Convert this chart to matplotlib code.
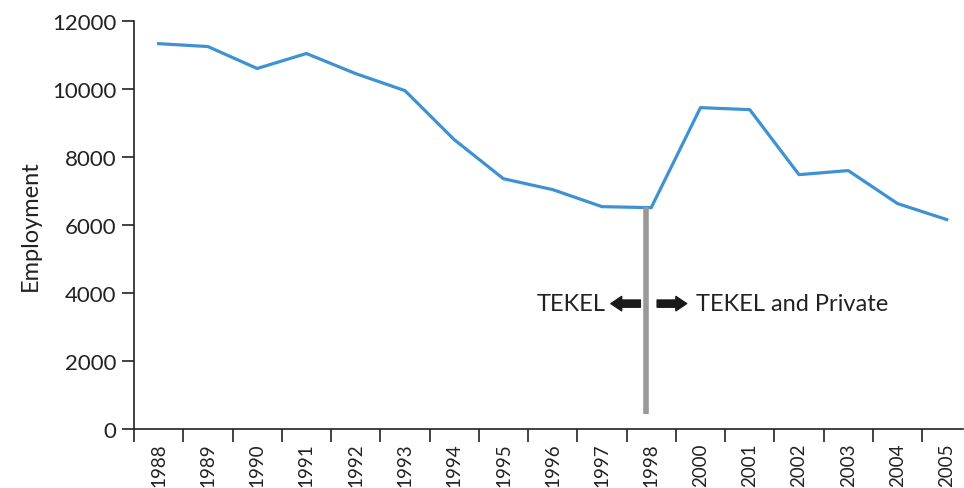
import numpy as np
import matplotlib.pyplot as plt

plt.rcParams['font.family'] = ['Lato', 'DejaVu Sans']

years = ['1988', '1989', '1990', '1991', '1992', '1993', '1994', '1995', '1996',
         '1997', '1998', '2000', '2001', '2002', '2003', '2004', '2005']
employment = [11320, 11235, 10590, 11030, 10440, 9940, 8500, 7350, 7030,
              6530, 6500, 9440, 9380, 7470, 7590, 6620, 6150]

# privatisation marker (position in category units, value range)
split_x = 9.9
split_lo, split_hi = 440, 6530

fig = plt.figure(figsize=(9.64, 4.89), dpi=100)
ax = fig.add_axes([0.139, 0.121, 0.86, 0.835])

x = np.arange(len(years))
ax.plot(x, employment, color='#3f92d2', lw=2.3)
ax.plot([split_x, split_x], [split_lo, split_hi], color='#999999', lw=4, solid_capstyle='butt')

arrow = dict(arrowstyle='simple,head_length=0.6,head_width=0.8,tail_width=0.4',
             color='#1a1a1a', mutation_scale=13, shrinkA=0, shrinkB=0)
ax.annotate('', xy=(split_x - 0.72, 3680), xytext=(split_x - 0.12, 3680), arrowprops=arrow)
ax.annotate('', xy=(split_x + 0.82, 3680), xytext=(split_x + 0.22, 3680), arrowprops=arrow)
ax.text(split_x - 0.82, 3680, 'TEKEL', ha='right', va='center', fontsize=17, color='#222222')
ax.text(split_x + 1.0, 3680, 'TEKEL and Private', ha='left', va='center', fontsize=17, color='#222222')

ax.set_xlim(-0.5, 16.33)
ax.set_ylim(0, 12000)
ax.set_yticks(np.arange(0, 12001, 2000))
ax.set_xticks(x)
ax.set_xticklabels(years, rotation=90, fontsize=13.5, color='#222222')
ax.set_xticks(np.arange(-0.5, 16.5, 1), minor=True)
ax.tick_params(axis='x', which='major', length=0, pad=10)
ax.tick_params(axis='x', which='minor', length=9, width=1.2, color='#222222')
ax.tick_params(axis='y', length=9, width=1.2, color='#222222', labelsize=16, labelcolor='#222222')
ax.set_ylabel('Employment', fontsize=17, color='#222222', labelpad=8)

for s in ['top', 'right']:
    ax.spines[s].set_visible(False)
for s in ['left', 'bottom']:
    ax.spines[s].set_linewidth(1.2)
    ax.spines[s].set_color('#222222')

fig.savefig('out.png', dpi=100)
